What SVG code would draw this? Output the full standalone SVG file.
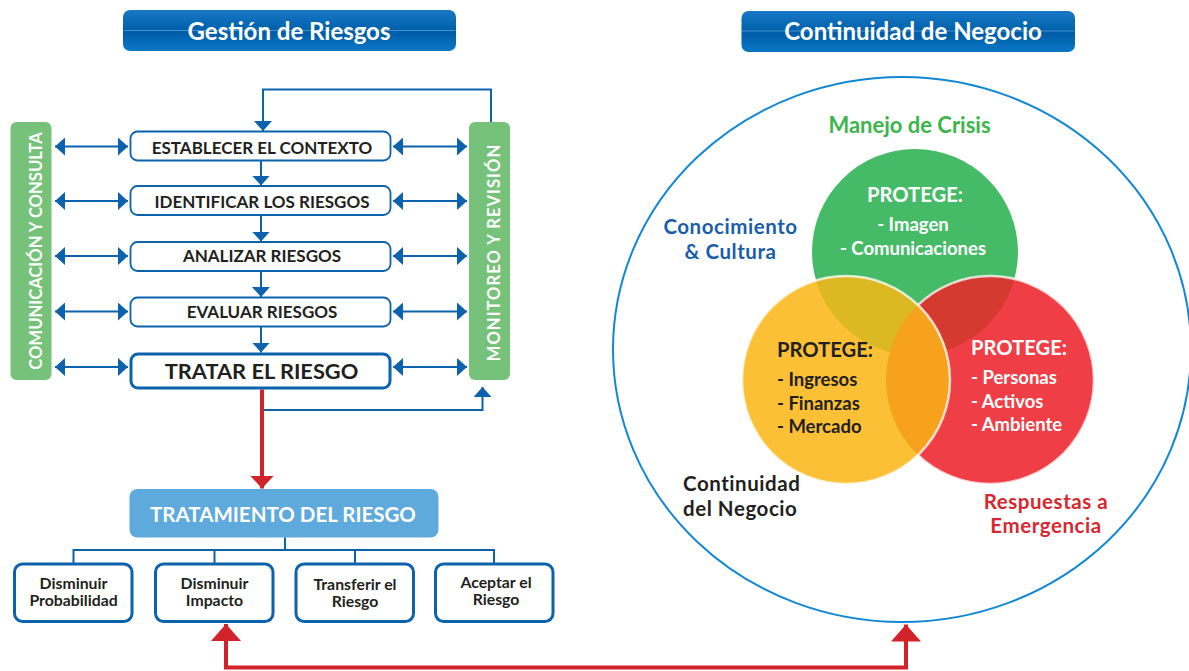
<svg xmlns="http://www.w3.org/2000/svg" width="1189" height="671" viewBox="0 0 1189 671">
<style>
text{font-family:Lato,"Open Sans","Liberation Sans",sans-serif;font-weight:bold}
.title{fill:#fff;font-size:24px;text-anchor:middle}
.box{fill:#fff;stroke:#0d62ad;stroke-width:1.8}
.box5{fill:#fff;stroke:#0d62ad;stroke-width:3}
.bbox{fill:#fff;stroke:#0d62ad;stroke-width:3}
.btxt{fill:#231f20;font-size:17px;text-anchor:middle}
.btxt5{fill:#231f20;font-size:21.8px;text-anchor:middle}
.small{fill:#231f20;font-size:15.8px;text-anchor:middle}
.bar{fill:#77c27a}
.bartxt{fill:#fff;font-size:16.6px;text-anchor:middle}
.bl{fill:none;stroke:#0d62ad;stroke-width:2}
.rl{fill:none;stroke:#d2232a;stroke-width:4}
.wt{fill:#fff}
.dk{fill:#231f20}
.ven{font-size:18.5px}
.vh{font-size:20.2px}
.lab{font-size:22px}
.lab2{font-size:20.5px;letter-spacing:0.55px}
</style>
<defs>
<linearGradient id="tg" x1="0" y1="0" x2="0" y2="1">
<stop offset="0" stop-color="#1a78c4"/>
<stop offset="0.45" stop-color="#0062ad"/>
<stop offset="0.55" stop-color="#005ca6"/>
<stop offset="1" stop-color="#0a78c6"/>
</linearGradient>
<marker id="ab" viewBox="0 0 10 18" refX="10" refY="9" markerWidth="10" markerHeight="18" markerUnits="userSpaceOnUse" orient="auto-start-reverse">
<path d="M0,0 L10,9 L0,18 Z" fill="#0d62ad"/>
</marker>
<marker id="ar" viewBox="0 0 13 24" refX="13" refY="12" markerWidth="13" markerHeight="24" markerUnits="userSpaceOnUse" orient="auto-start-reverse">
<path d="M0,0 L13,12 L0,24 Z" fill="#d2232a"/>
</marker>
<marker id="arb" viewBox="0 0 17 30" refX="17" refY="15" markerWidth="17" markerHeight="30" markerUnits="userSpaceOnUse" orient="auto-start-reverse">
<path d="M0,0 L17,15 L0,30 Z" fill="#d2232a"/>
</marker>
<clipPath id="cG"><circle cx="915" cy="252" r="103"/></clipPath>
<clipPath id="cR"><circle cx="990" cy="380" r="104"/></clipPath>
</defs>

<g id="title-gestion">
<rect x="123" y="10" width="333" height="41" rx="7" fill="url(#tg)"/>
<line x1="124" y1="30.5" x2="455" y2="30.5" stroke="#7fb6e4" stroke-width="0.8" opacity="0.7"/>
<text class="title" x="289" y="40">Gestión de Riesgos</text>
</g>
<g id="title-continuidad">
<rect x="741.5" y="11" width="333.5" height="41" rx="7" fill="url(#tg)"/>
<line x1="742" y1="31" x2="1074" y2="31" stroke="#7fb6e4" stroke-width="0.8" opacity="0.7"/>
<text class="title" x="913" y="40">Continuidad de Negocio</text>
</g>

<g id="bar-comunicacion">
<rect class="bar" x="10.5" y="122" width="41" height="258" rx="6"/>
<text class="bartxt" transform="translate(41.5,251) rotate(-90)">COMUNICACIÓN Y CONSULTA</text>
</g>
<g id="bar-monitoreo">
<rect class="bar" x="469" y="122" width="41" height="258" rx="6"/>
<text class="bartxt" letter-spacing="1" transform="translate(500,252.5) rotate(-90)">MONITOREO Y REVISIÓN</text>
</g>

<g id="n-contexto">
<rect class="box" x="130.5" y="131.5" width="260" height="29" rx="7"/>
<text class="btxt" x="262" y="154">ESTABLECER EL CONTEXTO</text>
</g>
<g id="n-identificar">
<rect class="box" x="130.5" y="186" width="260" height="29" rx="7"/>
<text class="btxt" x="262" y="207.5">IDENTIFICAR LOS RIESGOS</text>
</g>
<g id="n-analizar">
<rect class="box" x="130.5" y="242" width="260" height="29" rx="7"/>
<text class="btxt" x="262" y="262">ANALIZAR RIESGOS</text>
</g>
<g id="n-evaluar">
<rect class="box" x="130.5" y="297.5" width="260" height="29" rx="7"/>
<text class="btxt" x="262" y="317.5">EVALUAR RIESGOS</text>
</g>
<g id="n-tratar">
<rect class="box5" x="131" y="354" width="259" height="34" rx="7"/>
<text class="btxt5" x="261.5" y="379">TRATAR EL RIESGO</text>
</g>

<g id="n-tratamiento">
<rect x="129.5" y="489" width="309" height="48.5" rx="8" fill="#5eaadd"/>
<text x="283" y="521.5" fill="#fff" font-size="20.5" text-anchor="middle">TRATAMIENTO DEL RIESGO</text>
</g>
<g id="n-probabilidad">
<rect class="bbox" x="14.5" y="564" width="117.5" height="57.5" rx="8"/>
<text class="small" y="588.5"><tspan x="73.5">Disminuir</tspan><tspan x="73.5" dy="17">Probabilidad</tspan></text>
</g>
<g id="n-impacto">
<rect class="bbox" x="155.5" y="564" width="117.5" height="57.5" rx="8"/>
<text class="small" y="588.5"><tspan x="214.5">Disminuir</tspan><tspan x="214.5" dy="17">Impacto</tspan></text>
</g>
<g id="n-transferir">
<rect class="bbox" x="296" y="564" width="117.5" height="57.5" rx="8"/>
<text class="small" y="590"><tspan x="355">Transferir el</tspan><tspan x="355" dy="17">Riesgo</tspan></text>
</g>
<g id="n-aceptar">
<rect class="bbox" x="435.5" y="564" width="117.5" height="57.5" rx="8"/>
<text class="small" y="588"><tspan x="496">Aceptar el</tspan><tspan x="496" dy="17">Riesgo</tspan></text>
</g>

<g id="connectors">
<path class="bl" d="M55,146.5 H128" marker-start="url(#ab)" marker-end="url(#ab)"/>
<path class="bl" d="M55,201 H128" marker-start="url(#ab)" marker-end="url(#ab)"/>
<path class="bl" d="M55,256 H128" marker-start="url(#ab)" marker-end="url(#ab)"/>
<path class="bl" d="M55,311.5 H128" marker-start="url(#ab)" marker-end="url(#ab)"/>
<path class="bl" d="M55,367 H128" marker-start="url(#ab)" marker-end="url(#ab)"/>
<path class="bl" d="M393,146.5 H467" marker-start="url(#ab)" marker-end="url(#ab)"/>
<path class="bl" d="M393,201 H467" marker-start="url(#ab)" marker-end="url(#ab)"/>
<path class="bl" d="M393,256 H467" marker-start="url(#ab)" marker-end="url(#ab)"/>
<path class="bl" d="M393,311.5 H467" marker-start="url(#ab)" marker-end="url(#ab)"/>
<path class="bl" d="M393,367 H467" marker-start="url(#ab)" marker-end="url(#ab)"/>
<path class="bl" d="M261,160.5 V185.5" marker-end="url(#ab)"/>
<path class="bl" d="M261,215 V241.5" marker-end="url(#ab)"/>
<path class="bl" d="M261,271 V297" marker-end="url(#ab)"/>
<path class="bl" d="M261,326.5 V352.5" marker-end="url(#ab)"/>
<path class="bl" d="M491,122 V89.5 H263 V131" marker-end="url(#ab)"/>
<path class="bl" d="M262,410 H482.5 V387" marker-end="url(#ab)"/>
<path class="rl" d="M262,389.5 V488.5" marker-end="url(#ar)"/>
<path class="bl" d="M285,537.5 V550 M73.5,564 V550 H494 V564 M214.5,550 V564 M355,550 V564"/>
<path class="rl" d="M226,624 V667.5 H906 V624.5" marker-start="url(#arb)" marker-end="url(#arb)"/>
</g>

<g id="continuidad-circle">
<ellipse cx="902" cy="349.5" rx="289" ry="272.5" fill="none" stroke="#1288d4" stroke-width="2"/>
</g>

<g id="venn">
<circle cx="915" cy="252" r="103" fill="#46bb67"/>
<circle cx="990" cy="380" r="104" fill="#ef3e46"/>
<circle cx="990" cy="380" r="104" fill="#d43a30" clip-path="url(#cG)"/>
<circle cx="990" cy="380" r="104" fill="none" stroke="#fff" stroke-width="2.5" opacity="0.75"/>
<circle cx="846" cy="380" r="104" fill="#fbc035"/>
<circle cx="846" cy="380" r="104" fill="#dcb822" clip-path="url(#cG)"/>
<circle cx="846" cy="380" r="104" fill="#f6a21c" clip-path="url(#cR)"/>
<circle cx="846" cy="380" r="104" fill="none" stroke="#fff" stroke-width="2.5" opacity="0.75"/>
</g>

<g id="n-manejo">
<text class="vh wt" x="915" y="202" text-anchor="middle">PROTEGE:</text>
<text class="ven wt" text-anchor="middle" y="231"><tspan x="913">- Imagen</tspan><tspan x="913" dy="24">- Comunicaciones</tspan></text>
</g>
<g id="n-finanzas">
<text class="vh dk" x="777" y="357">PROTEGE:</text>
<text class="ven dk" y="386"><tspan x="777">- Ingresos</tspan><tspan x="777" dy="23.5">- Finanzas</tspan><tspan x="777" dy="23.5">- Mercado</tspan></text>
</g>
<g id="n-emergencia">
<text class="vh wt" x="971" y="355">PROTEGE:</text>
<text class="ven wt" y="384"><tspan x="971">- Personas</tspan><tspan x="971" dy="23.5">- Activos</tspan><tspan x="971" dy="23.5">- Ambiente</tspan></text>
</g>

<g id="labels">
<text class="lab" x="909.5" y="133" fill="#3cb54b" text-anchor="middle">Manejo de Crisis</text>
<text class="lab2" fill="#1b5ea8" text-anchor="middle" y="234.2"><tspan x="730.5">Conocimiento</tspan><tspan x="730.5" dy="24.6">&amp; Cultura</tspan></text>
<text class="lab2" fill="#231f20" y="491.2"><tspan x="683">Continuidad</tspan><tspan x="683" dy="24.6">del Negocio</tspan></text>
<text class="lab2" fill="#d7282f" text-anchor="middle" y="508.6"><tspan x="1046">Respuestas a</tspan><tspan x="1046" dy="24.6">Emergencia</tspan></text>
</g>
</svg>
